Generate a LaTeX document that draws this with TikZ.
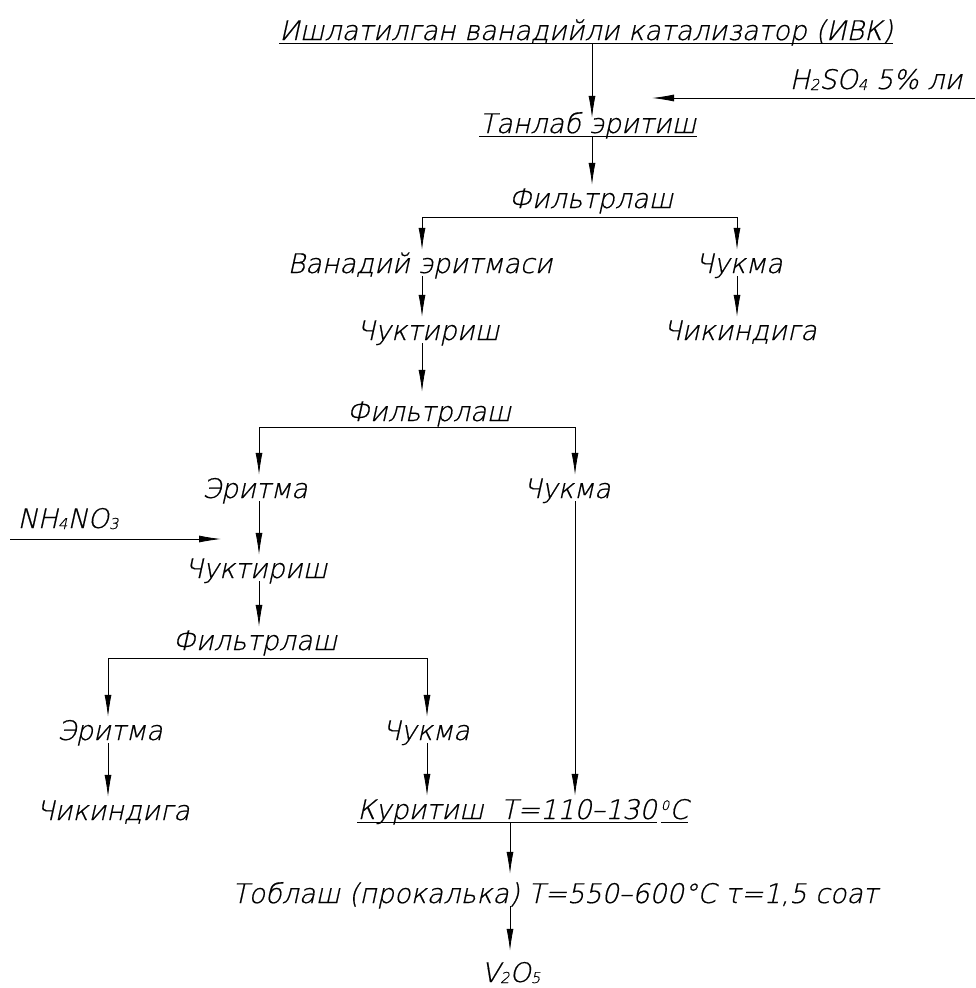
\documentclass[tikz,border=0pt]{standalone}
\usepackage{fontspec}
\newfontfamily\gost{DejaVu Sans ExtraLight}[FakeSlant=0.22,FakeBold=0.6]
\usetikzlibrary{arrows.meta,calc}
\newcommand\lowidx[1]{\raisebox{-1pt}{\fontsize{15}{16}\selectfont #1}}
\begin{document}
\begin{tikzpicture}[x=1pt,y=-1pt,
  lbl/.style={inner xsep=0pt, inner ysep=3pt, text height=20pt, text depth=0pt,
    font=\gost\fontsize{27}{30}\selectfont, anchor=base},
  arr/.style={-{Latex[length=22pt,width=7pt]}, line width=0.8pt},
  ln/.style={line width=0.8pt}]
\useasboundingbox (0,0) rectangle (975,988);
% columns
\coordinate (cM) at (592,0);
\coordinate (cA) at (422,0);
\coordinate (cB) at (737,0);
\coordinate (cC) at (259,0);
\coordinate (cD) at (575,0);
\coordinate (cE) at (108,0);
\coordinate (cF) at (427,0);
\coordinate (cG) at (510,0);
% nodes
\node[lbl] (title) at (586,40) {Ишлатилган ванадийли катализатор (ИВК)};
\node[lbl] (h2) at (876,89) {H\lowidx{2}SO\lowidx{4} 5\% ли};
\node[lbl] (tanlab) at (588,133) {Танлаб эритиш};
\node[lbl] (f1) at (591,208) {Фильтрлаш};
\node[lbl] (vanad) at (420,273) {Ванадий эритмаси};
\node[lbl] (ch1) at (739,273) {Чукма};
\node[lbl] (cht1) at (428,340) {Чуктириш};
\node[lbl] (chk1) at (740,340) {Чикиндига};
\node[lbl] (f2) at (429,421) {Фильтрлаш};
\node[lbl] (er1) at (255,498) {Эритма};
\node[lbl] (ch2) at (567,498) {Чукма};
\node[lbl] (nh) at (68,528) {NH\lowidx{4}NO\lowidx{3}};
\node[lbl] (cht2) at (256,578) {Чуктириш};
\node[lbl] (f3) at (255,650) {Фильтрлаш};
\node[lbl] (er2) at (110,740) {Эритма};
\node[lbl] (ch3) at (426,740) {Чукма};
\node[lbl] (chk2) at (113,820) {Чикиндига};
\node[lbl] (kur) at (507,819) {Куритиш\ \ T=110–130};
\node[lbl, anchor=base west] (kurc) at ([xshift=4pt]kur.base east) {\raisebox{9pt}{\fontsize{13}{14}\selectfont 0}C};
\node[lbl] (tob) at (555,903) {Тоблаш (прокалька) T=550–600°C\ τ=1,5 соат};
\node[lbl] (v2) at (511,982) {V\lowidx{2}O\lowidx{5}};
% free ends
\coordinate (h2in) at (975,98);
\coordinate (h2tip) at (652,98);
\coordinate (nhin) at (10,539);
\coordinate (nhtip) at (221,539);
% underlines
\draw[ln] (title.south west) -- (title.south east);
\draw[ln] (tanlab.south west) -- (tanlab.south east);
\draw[ln] (kur.south west) -- (kur.south east);
\draw[ln] (kurc.south west) -- (kurc.south east);
% connectors
\draw[arr] (title.south -| cM) -- ($(tanlab.north -| cM)+(0,8)$);
\draw[arr] (h2in) -- (h2tip);
\draw[arr] (tanlab.south -| cM) -- (f1.north -| cM);
\coordinate (b1) at ($(f1.south)+(0,6)$);
\draw[ln] (b1 -| cA) -- (b1 -| cB);
\draw[arr] (b1 -| cA) -- (vanad.north -| cA);
\draw[arr] (b1 -| cB) -- (ch1.north -| cB);
\draw[arr] (vanad.south -| cA) -- (cht1.north -| cA);
\draw[arr] (ch1.south -| cB) -- (chk1.north -| cB);
\draw[arr] (cht1.south -| cA) -- ($(f2.north -| cA)+(0,-6)$);
\coordinate (b2) at ($(f2.south)+(0,3)$);
\draw[ln] (b2 -| cC) -- (b2 -| cD);
\draw[arr] (b2 -| cC) -- (er1.north -| cC);
\draw[arr] (b2 -| cD) -- (ch2.north -| cD);
\draw[arr] (er1.south -| cC) -- (cht2.north -| cC);
\draw[arr] (nhin) -- (nhtip);
\draw[arr] (cht2.south -| cC) -- (f3.north -| cC);
\coordinate (b3) at ($(f3.south)+(0,5)$);
\draw[ln] (b3 -| cE) -- (b3 -| cF);
\draw[arr] (b3 -| cE) -- (er2.north -| cE);
\draw[arr] (b3 -| cF) -- (ch3.north -| cF);
\draw[arr] (er2.south -| cE) -- (chk2.north -| cE);
\draw[arr] (ch3.south -| cF) -- (kur.north -| cF);
\draw[arr] (ch2.south -| cD) -- (kur.north -| cD);
\draw[arr] (kur.south -| cG) -- ($(tob.north -| cG)+(0,-6)$);
\draw[arr] (tob.south -| cG) -- ($(v2.north -| cG)+(0,-8)$);
\end{tikzpicture}
\end{document}
